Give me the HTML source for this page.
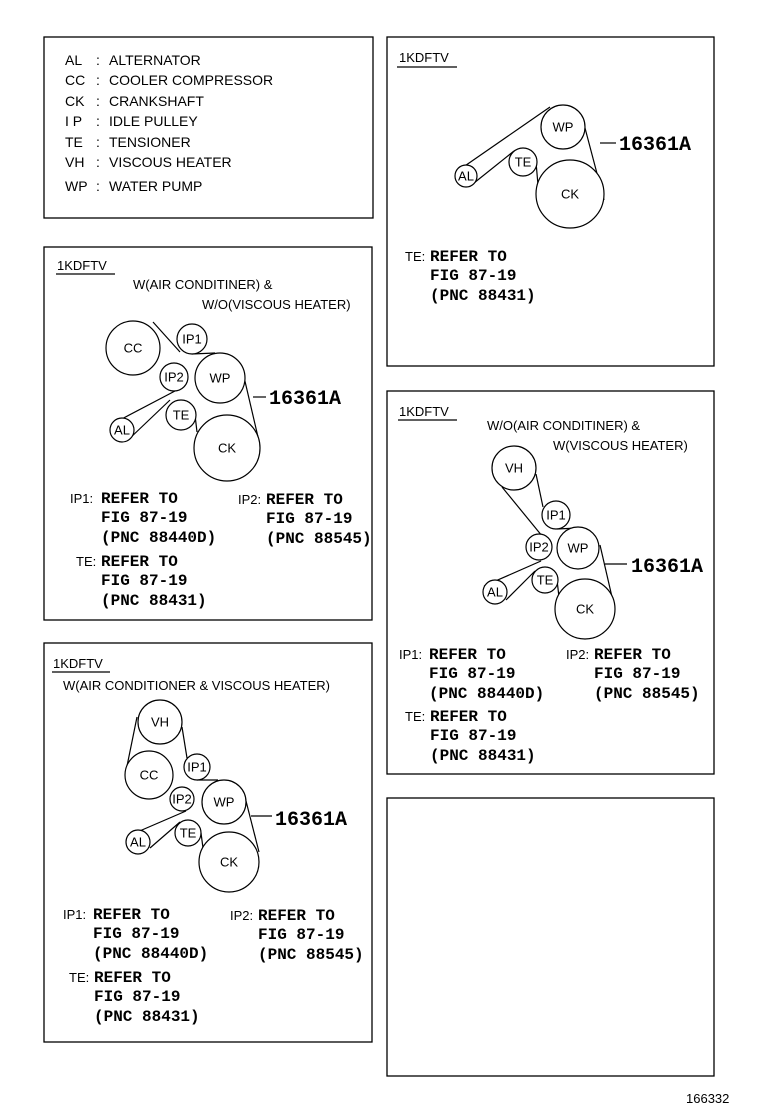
<!DOCTYPE html>
<html><head><meta charset="utf-8"><style>
html,body{margin:0;padding:0;background:#fff;}
svg{display:block}
.t{font-family:"Liberation Sans",sans-serif;font-size:14px;fill:#000}
.s{font-family:"Liberation Sans",sans-serif;font-size:13px;fill:#000}
.b{font-family:"Liberation Mono",monospace;font-weight:bold;font-size:16px;fill:#000}
.L{font-family:"Liberation Mono",monospace;font-weight:bold;font-size:20px;fill:#000}
.c{font-family:"Liberation Sans",sans-serif;font-size:13px;fill:#000;text-anchor:middle;dominant-baseline:central}
circle{fill:#fff;stroke:#000;stroke-width:1.2}
line,path{stroke:#000;stroke-width:1.2;fill:none}
rect{fill:none;stroke:#000;stroke-width:1.3}
</style></head><body>
<svg width="760" height="1112" viewBox="0 0 760 1112">
<!-- boxes -->
<rect x="44" y="37" width="329" height="181"/>
<rect x="387" y="37" width="327" height="329"/>
<rect x="44" y="247" width="328" height="373"/>
<rect x="387" y="391" width="327" height="383"/>
<rect x="44" y="643" width="328" height="399"/>
<rect x="387" y="798" width="327" height="278"/>

<!-- legend -->
<g class="t">
<text x="65" y="65">AL</text><text x="96" y="65">:</text><text x="109" y="65">ALTERNATOR</text>
<text x="65" y="85">CC</text><text x="96" y="85">:</text><text x="109" y="85">COOLER COMPRESSOR</text>
<text x="65" y="106">CK</text><text x="96" y="106">:</text><text x="109" y="106">CRANKSHAFT</text>
<text x="65" y="126">I P</text><text x="96" y="126">:</text><text x="109" y="126">IDLE PULLEY</text>
<text x="65" y="147">TE</text><text x="96" y="147">:</text><text x="109" y="147">TENSIONER</text>
<text x="65" y="167">VH</text><text x="96" y="167">:</text><text x="109" y="167">VISCOUS HEATER</text>
<text x="65" y="191">WP</text><text x="96" y="191">:</text><text x="109" y="191">WATER PUMP</text>
</g>

<!-- top right -->
<text class="s" x="399" y="62">1KDFTV</text><line x1="397" y1="67" x2="457" y2="67"/>
<line x1="459" y1="170" x2="550" y2="107"/>
<line x1="474" y1="183" x2="514" y2="151"/>
<line x1="585" y1="128" x2="604" y2="200"/>
<line x1="600" y1="143" x2="616" y2="143"/>
<line x1="536" y1="162" x2="538" y2="185"/>
<circle cx="563" cy="127" r="22"/><text class="c" x="563" y="127">WP</text>
<circle cx="570" cy="194" r="34"/><text class="c" x="570" y="194">CK</text>
<circle cx="523" cy="162" r="14"/><text class="c" x="523" y="162">TE</text>
<circle cx="466" cy="176" r="11"/><text class="c" x="466" y="176">AL</text>
<text class="L" x="619" y="150">16361A</text>
<text class="s" x="405" y="261">TE:</text><text class="b" x="430" y="261">REFER TO</text>
<text class="b" x="430" y="280">FIG 87-19</text>
<text class="b" x="430" y="300">(PNC 88431)</text>

<!-- mid left -->
<text class="s" x="57" y="270">1KDFTV</text><line x1="56" y1="274" x2="115" y2="274"/>
<text class="s" x="133" y="289">W(AIR CONDITINER) &amp;</text>
<text class="s" x="202" y="309">W/O(VISCOUS HEATER)</text>
<line x1="153" y1="322" x2="180" y2="352"/>
<line x1="192" y1="354" x2="215" y2="353"/>
<line x1="116" y1="422" x2="175" y2="391"/>
<line x1="128" y1="440" x2="170" y2="400"/>
<line x1="244" y1="377" x2="258" y2="437"/>
<line x1="253" y1="397" x2="266" y2="397"/>
<line x1="195" y1="415" x2="197" y2="432"/>
<circle cx="133" cy="348" r="27"/><text class="c" x="133" y="348">CC</text>
<circle cx="192" cy="339" r="15"/><text class="c" x="192" y="339">IP1</text>
<circle cx="174" cy="377" r="14"/><text class="c" x="174" y="377">IP2</text>
<circle cx="220" cy="378" r="25"/><text class="c" x="220" y="378">WP</text>
<circle cx="181" cy="415" r="15"/><text class="c" x="181" y="415">TE</text>
<circle cx="122" cy="430" r="12"/><text class="c" x="122" y="430">AL</text>
<circle cx="227" cy="448" r="33"/><text class="c" x="227" y="448">CK</text>
<text class="L" x="269" y="404">16361A</text>
<text class="s" x="70" y="503">IP1:</text><text class="b" x="101" y="503">REFER TO</text>
<text class="b" x="101" y="522">FIG 87-19</text>
<text class="b" x="101" y="542">(PNC 88440D)</text>
<text class="s" x="238" y="504">IP2:</text><text class="b" x="266" y="504">REFER TO</text>
<text class="b" x="266" y="523">FIG 87-19</text>
<text class="b" x="266" y="543">(PNC 88545)</text>
<text class="s" x="76" y="566">TE:</text><text class="b" x="101" y="566">REFER TO</text>
<text class="b" x="101" y="585">FIG 87-19</text>
<text class="b" x="101" y="605">(PNC 88431)</text>

<!-- right mid -->
<text class="s" x="399" y="416">1KDFTV</text><line x1="398" y1="420" x2="457" y2="420"/>
<text class="s" x="487" y="430">W/O(AIR CONDITINER) &amp;</text>
<text class="s" x="553" y="450">W(VISCOUS HEATER)</text>
<line x1="502" y1="487" x2="547" y2="542"/>
<line x1="536" y1="474" x2="543" y2="507"/>
<line x1="557" y1="529" x2="578" y2="528"/>
<line x1="484" y1="586" x2="541" y2="561"/>
<line x1="506" y1="600" x2="535" y2="571"/>
<line x1="600" y1="545" x2="612" y2="597"/>
<line x1="605" y1="564" x2="627" y2="564"/>
<line x1="557" y1="580" x2="559" y2="597"/>
<circle cx="514" cy="468" r="22"/><text class="c" x="514" y="468">VH</text>
<circle cx="556" cy="515" r="14"/><text class="c" x="556" y="515">IP1</text>
<circle cx="539" cy="547" r="13"/><text class="c" x="539" y="547">IP2</text>
<circle cx="578" cy="548" r="21"/><text class="c" x="578" y="548">WP</text>
<circle cx="545" cy="580" r="13"/><text class="c" x="545" y="580">TE</text>
<circle cx="495" cy="592" r="12"/><text class="c" x="495" y="592">AL</text>
<circle cx="585" cy="609" r="30"/><text class="c" x="585" y="609">CK</text>
<text class="L" x="631" y="572">16361A</text>
<text class="s" x="399" y="659">IP1:</text><text class="b" x="429" y="659">REFER TO</text>
<text class="b" x="429" y="678">FIG 87-19</text>
<text class="b" x="429" y="698">(PNC 88440D)</text>
<text class="s" x="566" y="659">IP2:</text><text class="b" x="594" y="659">REFER TO</text>
<text class="b" x="594" y="678">FIG 87-19</text>
<text class="b" x="594" y="698">(PNC 88545)</text>
<text class="s" x="405" y="721">TE:</text><text class="b" x="430" y="721">REFER TO</text>
<text class="b" x="430" y="740">FIG 87-19</text>
<text class="b" x="430" y="760">(PNC 88431)</text>

<!-- bottom left -->
<text class="s" x="53" y="668">1KDFTV</text><line x1="52" y1="672" x2="110" y2="672"/>
<text class="s" x="63" y="690">W(AIR CONDITIONER &amp; VISCOUS HEATER)</text>
<line x1="137" y1="717" x2="126" y2="771"/>
<line x1="182" y1="727" x2="187" y2="758"/>
<line x1="197" y1="780" x2="218" y2="780"/>
<line x1="128" y1="836" x2="186" y2="811"/>
<line x1="150" y1="848" x2="180" y2="822"/>
<line x1="245" y1="797" x2="259" y2="852"/>
<line x1="251" y1="816" x2="272" y2="816"/>
<line x1="201" y1="833" x2="203" y2="848"/>
<circle cx="160" cy="722" r="22"/><text class="c" x="160" y="722">VH</text>
<circle cx="149" cy="775" r="24"/><text class="c" x="149" y="775">CC</text>
<circle cx="197" cy="767" r="13"/><text class="c" x="197" y="767">IP1</text>
<circle cx="182" cy="799" r="12"/><text class="c" x="182" y="799">IP2</text>
<circle cx="224" cy="802" r="22"/><text class="c" x="224" y="802">WP</text>
<circle cx="188" cy="833" r="13"/><text class="c" x="188" y="833">TE</text>
<circle cx="138" cy="842" r="12"/><text class="c" x="138" y="842">AL</text>
<circle cx="229" cy="862" r="30"/><text class="c" x="229" y="862">CK</text>
<text class="L" x="275" y="825">16361A</text>
<text class="s" x="63" y="919">IP1:</text><text class="b" x="93" y="919">REFER TO</text>
<text class="b" x="93" y="938">FIG 87-19</text>
<text class="b" x="93" y="958">(PNC 88440D)</text>
<text class="s" x="230" y="920">IP2:</text><text class="b" x="258" y="920">REFER TO</text>
<text class="b" x="258" y="939">FIG 87-19</text>
<text class="b" x="258" y="959">(PNC 88545)</text>
<text class="s" x="69" y="982">TE:</text><text class="b" x="94" y="982">REFER TO</text>
<text class="b" x="94" y="1001">FIG 87-19</text>
<text class="b" x="94" y="1021">(PNC 88431)</text>

<text class="s" x="686" y="1103">166332</text>
</svg>
</body></html>
